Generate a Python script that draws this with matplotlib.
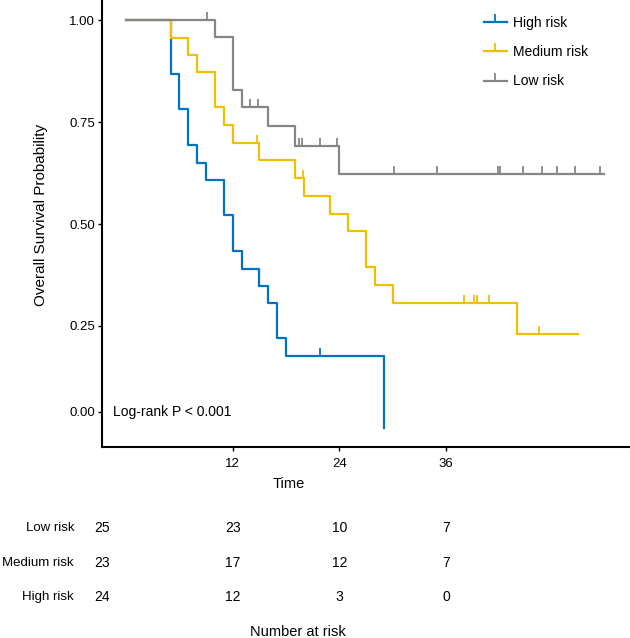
import matplotlib
matplotlib.use("Agg")
import matplotlib.pyplot as plt
import matplotlib.transforms as mtransforms
import numpy as np

plt.rcParams["font.family"] = ["Liberation Sans", "DejaVu Sans"]

# Kaplan-Meier steps (event time, survival after the event)
high_times = [0, 5, 6, 7, 8, 9, 11, 12, 13, 15, 16, 17, 18, 29]
high_surv = [1.0, 0.869, 0.782, 0.695, 0.651, 0.608, 0.522, 0.435, 0.391, 0.349, 0.306, 0.220, 0.177, 0.0]
high_end = 29
high_censor = [21.8]

med_times = [0, 5, 7, 8, 10, 11, 12, 15, 19, 20, 23, 25, 27, 28, 30, 44]
med_surv = [1.0, 0.957, 0.916, 0.873, 0.787, 0.744, 0.700, 0.657, 0.613, 0.570, 0.526, 0.482,
            0.395, 0.351, 0.307, 0.231]
med_end = 50.8
med_censor = [14.7, 19.9, 38.0, 39.2, 39.5, 40.8, 46.5]

low_times = [0, 10, 12, 13, 16, 19, 24]
low_surv = [1.0, 0.958, 0.829, 0.788, 0.740, 0.691, 0.622]
low_end = 53.8
low_censor = [9.1, 13.9, 14.8, 19.5, 19.8, 21.8, 23.7, 30.2, 35.0, 41.8, 42.1, 44.7, 46.8,
              48.5, 50.5, 53.3]

groups = ["High risk", "Medium risk", "Low risk"]
colors = ["#0073C2", "#EFC000", "#868686"]

risk_times = [0, 12, 24, 36]
risk_rows = ["Low risk", "Medium risk", "High risk"]
risk_low = [25, 23, 10, 7]
risk_med = [23, 17, 12, 7]
risk_high = [24, 12, 3, 0]

W, H = 630, 638
fig = plt.figure(figsize=(W / 100, H / 100), dpi=100)
ax = fig.add_axes([102 / W, 1 - 447 / H, (W - 102) / W, 447 / H])

curves = [
    (high_times, high_surv, high_end, high_censor),
    (med_times, med_surv, med_end, med_censor),
    (low_times, low_surv, low_end, low_censor),
]
for (t, s, end, cens), name, col in zip(curves, groups, colors):
    tt = list(t) + ([end] if end > t[-1] else [])
    ss = list(s) + ([s[-1]] if end > t[-1] else [])
    ax.step(tt, ss, where="post", color=col, lw=1.6, label=name, zorder=3)
    # censor marks sit on the step value at that time
    idx = np.searchsorted(t, cens, side="right") - 1
    ax.plot(cens, np.array(s)[idx], ls="none", marker=2, ms=6, mew=1.3, color=col, zorder=3)

# legend handles: line with an upward tick
handles = [plt.Line2D([], [], color=c, lw=1.6, marker=2, ms=6, mew=1.3) for c in colors]
ax.legend(handles, groups, loc="upper left", bbox_to_anchor=(0.710, 0.980), frameon=False,
          borderpad=0, handlelength=1.65, handletextpad=0.45, labelspacing=1.1, fontsize=10)

ax.set_xlim(-2.71, 56.7)
ax.set_ylim(-0.047, 1.05)
ax.set_xticks([12, 24, 36])
ax.set_yticks([0.04, 0.25, 0.5, 0.75, 1.0])
ax.set_yticklabels(["0.00", "0.25", "0.50", "0.75", "1.00"])
ax.tick_params(labelsize=9.5, length=3, width=1, colors="black")
ax.tick_params(axis="x", pad=5)
ax.tick_params(axis="y", pad=2)

for side in ["top", "right"]:
    ax.spines[side].set_visible(False)
for side in ["left", "bottom"]:
    ax.spines[side].set_linewidth(1.5)

ax.set_xlabel("Time", fontsize=10.5)
ax.xaxis.set_label_coords((289 - 102) / (W - 102), -0.067)
ax.set_ylabel("Overall Survival Probability", fontsize=11)
ax.yaxis.set_label_coords((48 - 102) / (W - 102), 0.52)

ax.text(-1.47, 0.04, "Log-rank P < 0.001", fontsize=10, va="center", ha="left")

# number at risk table under the plot
trans = mtransforms.blended_transform_factory(ax.transData, fig.transFigure)
row_y = [1 - 528 / H, 1 - 563 / H, 1 - 597 / H]
xmin = ax.get_xlim()[0]
for label, counts, y in zip(risk_rows, [risk_low, risk_med, risk_high], row_y):
    fig.text(74 / W, y, label, ha="right", va="center", fontsize=9.5)
    for t, n in zip(risk_times, counts):
        x = xmin if t == 0 else t
        fig.text(x, y, str(n), ha="center", va="center", fontsize=10, transform=trans)
fig.text(298 / W, 1 - 632 / H, "Number at risk", ha="center", va="center", fontsize=10.5)

fig.savefig("out.png", dpi=100)
